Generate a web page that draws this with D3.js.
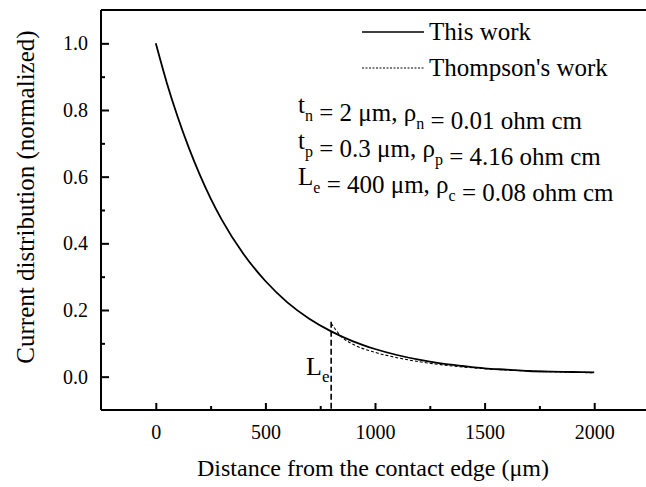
<!DOCTYPE html>
<html>
<head>
<meta charset="utf-8">
<script src="https://cdn.jsdelivr.net/npm/d3@7"></script>
<style>
  html, body { margin: 0; padding: 0; background: #fff; }
  svg { display: block; }
  svg text { font-family: "Liberation Serif", "DejaVu Serif", serif; fill: #000; }
</style>
</head>
<body>
<svg id="chart" width="646" height="487" font-family="Liberation Serif"></svg>
<script>
// ---- data ----
const thisWorkX = [0, 50, 100, 150, 200, 250, 300, 400, 500, 600, 700, 800, 900, 1000, 1100, 1200, 1300, 1400, 1500, 1600, 1700, 1800, 1900, 2000];
const thisWorkY = [1.000, 0.882, 0.779, 0.688, 0.607, 0.535, 0.472, 0.368, 0.287, 0.223, 0.174, 0.136, 0.106, 0.083, 0.065, 0.051, 0.040, 0.032, 0.025, 0.021, 0.017, 0.015, 0.014, 0.013];
const thompsonX = [800, 850, 900, 1000, 1100, 1200, 1300, 1400, 1500, 1600, 1700, 1800, 1900, 2000];
const thompsonY = [0.160, 0.118, 0.097, 0.073, 0.057, 0.045, 0.036, 0.029, 0.024, 0.020, 0.017, 0.015, 0.013, 0.012];
const leX = 800;
const leTop = 0.165;
const xMajorTicks = [0, 500, 1000, 1500, 2000];
const xMinorTicks = [250, 750, 1250, 1750];
const yMajorTicks = [0.0, 0.2, 0.4, 0.6, 0.8, 1.0];
const yMinorTicks = [0.1, 0.3, 0.5, 0.7, 0.9];
const xDomain = [-250, 2250];
const yDomain = [-0.1, 1.1];
const xTitle = "Distance from the contact edge (\u03bcm)";
const yTitle = "Current distribution (normalized)";
const legendNames = ["This work", "Thompson's work"];

// ---- layout ----
const FONT = "'Liberation Serif', 'DejaVu Serif', serif";
const svg = d3.select("#chart");
const L = 101, T = 10, B = 410, R = 649;
const x = d3.scaleLinear().domain(xDomain).range([L, R]);
const y = d3.scaleLinear().domain(yDomain).range([B, T]);

// axes
const gx = svg.append("g").attr("transform", `translate(0,${B})`)
  .call(d3.axisBottom(x).tickValues(xMajorTicks).tickFormat(d3.format("d")).tickSize(-7).tickPadding(15));
const gxm = svg.append("g").attr("transform", `translate(0,${B})`)
  .call(d3.axisBottom(x).tickValues(xMinorTicks).tickFormat("").tickSize(-4));
const gy = svg.append("g").attr("transform", `translate(${L},0)`)
  .call(d3.axisLeft(y).tickValues(yMajorTicks).tickFormat(d3.format(".1f")).tickSize(-8).tickPadding(13));
const gym = svg.append("g").attr("transform", `translate(${L},0)`)
  .call(d3.axisLeft(y).tickValues(yMinorTicks).tickFormat("").tickSize(-4));
const gtop = svg.append("g").attr("transform", `translate(0,${T})`)
  .call(d3.axisTop(x).tickValues([]).tickSize(0));
[gx, gxm, gy, gym, gtop].forEach(g => {
  g.attr("font-family", FONT);
  g.select(".domain").attr("stroke", "#000").attr("stroke-width", 2);
  g.selectAll(".tick line").attr("stroke", "#000").attr("stroke-width", 2);
  g.selectAll(".tick text").style("font-family", FONT).style("font-size", "20px").attr("fill", "#000");
});
gx.select(".domain").attr("d", `M${L},0H${R}`);
gtop.select(".domain").attr("d", `M${L},0H${R}`);
gy.select(".domain").attr("d", `M0,${B}V${T}`);
gym.select(".domain").remove();
gxm.select(".domain").remove();

// titles
svg.append("text").attr("x", 373).attr("y", 476).attr("text-anchor", "middle")
  .style("font-family", FONT).style("font-size", "24px").text(xTitle);
svg.append("text").attr("transform", "translate(34,197) rotate(-90)").attr("text-anchor", "middle")
  .style("font-family", FONT).style("font-size", "25px").text(yTitle);

// lines
const line = d3.line().x(d => x(d[0])).y(d => y(d[1])).curve(d3.curveMonotoneX);
svg.append("path").datum(thisWorkX.map((v, i) => [v, thisWorkY[i]]))
  .attr("d", line).attr("fill", "none").attr("stroke", "#000").attr("stroke-width", 1.8);
svg.append("path").datum(thompsonX.map((v, i) => [v, thompsonY[i]]))
  .attr("d", line).attr("fill", "none").attr("stroke", "#000").attr("stroke-width", 1.1)
  .attr("stroke-dasharray", "3,2");

// Le marker
svg.append("line").attr("x1", x(leX)).attr("x2", x(leX)).attr("y1", y(leTop)).attr("y2", B)
  .attr("stroke", "#000").attr("stroke-width", 1.6).attr("stroke-dasharray", "6,3");
const le = svg.append("text").attr("x", 306).attr("y", 375).style("font-family", FONT).style("font-size", "26px");
le.append("tspan").text("L");
le.append("tspan").attr("dy", 7).style("font-size", "17px").text("e");

// legend
const lx1 = 362, lx2 = 424, tx = 429;
svg.append("line").attr("x1", lx1).attr("x2", lx2).attr("y1", 32).attr("y2", 32)
  .attr("stroke", "#000").attr("stroke-width", 1.4);
svg.append("text").attr("x", tx).attr("y", 40).style("font-family", FONT).style("font-size", "25px").text(legendNames[0]);
svg.append("line").attr("x1", lx1).attr("x2", lx2).attr("y1", 68).attr("y2", 68)
  .attr("stroke", "#000").attr("stroke-width", 1).attr("stroke-dasharray", "2,1.5");
svg.append("text").attr("x", tx).attr("y", 76).style("font-family", FONT).style("font-size", "25px").text(legendNames[1]);

function paramLine(yPos, parts) {
  const t = svg.append("text").attr("x", 298).attr("y", yPos).style("font-family", FONT).style("font-size", "25px");
  parts.forEach(p => {
    if (p.sub) {
      t.append("tspan").attr("dy", 8).style("font-size", "16px").text(p.sub);
      t.append("tspan").attr("dy", -8).text("");
    } else {
      t.append("tspan").text(p.t);
    }
  });
}
paramLine(113, [{t: "t"}, {sub: "n"}, {t: " = 2 \u03bcm, \u03c1"}, {sub: "n"}, {t: " = 0.01 ohm cm"}]);
paramLine(149, [{t: "t"}, {sub: "p"}, {t: " = 0.3 \u03bcm, \u03c1"}, {sub: "p"}, {t: " = 4.16 ohm cm"}]);
paramLine(185, [{t: "L"}, {sub: "e"}, {t: " = 400 \u03bcm, \u03c1"}, {sub: "c"}, {t: " = 0.08 ohm cm"}]);
</script>
</body>
</html>
